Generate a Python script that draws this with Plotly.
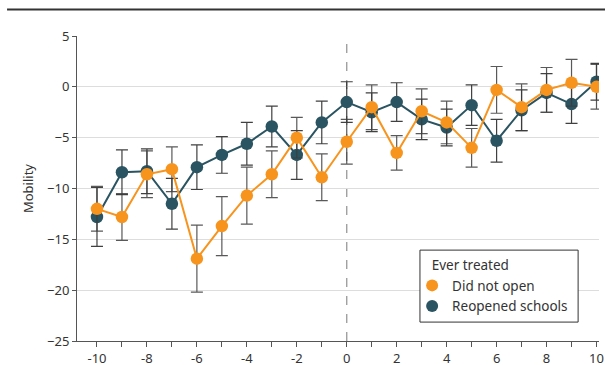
import plotly.graph_objects as go

months = list(range(-10, 11))

did_not_open = [-12.0, -12.8, -8.6, -8.1, -16.9, -13.7, -10.7, -8.6, -5.0, -8.9, -5.4,
                -2.0, -6.5, -2.4, -3.5, -6.0, -0.3, -2.0, -0.3, 0.4, 0.0]
did_not_open_err = [2.2, 2.3, 2.3, 2.2, 3.3, 2.9, 2.8, 2.3, 2.0, 2.3, 2.2,
                    2.2, 1.7, 2.2, 2.1, 1.9, 2.3, 2.3, 2.2, 2.3, 2.2]

reopened = [-12.8, -8.4, -8.3, -11.5, -7.9, -6.7, -5.6, -3.9, -6.7, -3.5, -1.5,
            -2.5, -1.5, -3.2, -4.0, -1.8, -5.3, -2.3, -0.6, -1.7, 0.5]
reopened_err = [2.9, 2.2, 2.2, 2.5, 2.2, 1.8, 2.1, 2.0, 2.4, 2.1, 2.0,
                1.9, 1.9, 2.0, 1.8, 2.0, 2.1, 2.0, 1.9, 1.9, 1.8]

ORANGE = "#F7941D"
TEAL = "#2A5461"
FONT = "Noto Sans"
TXT = "#333333"

fig = go.Figure()

fig.add_trace(go.Scatter(
    x=months, y=reopened, mode="lines+markers",
    line=dict(color=TEAL, width=2),
    marker=dict(color=TEAL, size=12.5),
    error_y=dict(type="data", array=reopened_err, color="rgba(30,30,30,0.85)", thickness=1.2, width=6),
    showlegend=False))

fig.add_trace(go.Scatter(
    x=months, y=did_not_open, mode="lines+markers",
    line=dict(color=ORANGE, width=2),
    marker=dict(color=ORANGE, size=12.5),
    error_y=dict(type="data", array=did_not_open_err, color="rgba(60,60,60,0.85)", thickness=1.2, width=6),
    showlegend=False))

fig.add_trace(go.Scatter(x=[None], y=[None], mode="markers", name="Did not open",
                         marker=dict(color=ORANGE, size=12.5), legendrank=1))
fig.add_trace(go.Scatter(x=[None], y=[None], mode="markers", name="Reopened schools",
                         marker=dict(color=TEAL, size=12.5), legendrank=2))

# zero reference line
fig.add_shape(type="line", xref="x", yref="paper", x0=0, x1=0, y0=0, y1=1,
              line=dict(color="#999999", width=1.3, dash="dash"), layer="below")

# header rule
fig.add_shape(type="line", xref="paper", yref="paper", x0=-0.134, x1=1.03, y0=1.087, y1=1.087,
              line=dict(color="#333333", width=2))

# legend frame
fig.add_shape(type="rect", xref="paper", yref="paper", x0=0.657, x1=0.960, y0=0.062, y1=0.298,
              line=dict(color="#333333", width=1), fillcolor="white", layer="above")

fig.update_layout(
    width=605, height=365,
    margin=dict(l=77, r=6, t=36, b=24, autoexpand=False),
    plot_bgcolor="white", paper_bgcolor="white",
    font=dict(family=FONT, size=13, color=TXT),
    legend=dict(
        title=dict(text="&nbsp;&nbsp;&nbsp;&nbsp;&nbsp;Ever treated", font=dict(family=FONT, size=13.5, color=TXT)),
        x=0.642, y=0.29, xanchor="left", yanchor="top",
        borderwidth=0, bgcolor="rgba(0,0,0,0)",
        font=dict(family=FONT, size=13.5, color=TXT),
        itemsizing="constant", tracegroupgap=0),
    xaxis=dict(
        range=[-10.8, 10.1],
        tickvals=months,
        ticktext=[str(m) if m % 2 == 0 else "" for m in months],
        ticks="outside", ticklen=5, tickcolor="#555555",
        showline=True, linecolor="#555555", linewidth=1,
        showgrid=False, zeroline=False, ticklabeloverflow="allow",
        tickfont=dict(family=FONT, size=13, color=TXT)),
    yaxis=dict(
        range=[-25, 5],
        tickvals=[5, 0, -5, -10, -15, -20, -25],
        ticks="outside", ticklen=4, tickcolor="#555555",
        showline=True, linecolor="#555555", linewidth=1,
        showgrid=True, gridcolor="#DDDDDD", gridwidth=1,
        zeroline=False,
        title=dict(text="Mobility", font=dict(family=FONT, size=13, color=TXT), standoff=10),
        tickfont=dict(family=FONT, size=13, color=TXT)),
)

fig.write_html(
    "out.html",
    config={"displayModeBar": False},
    post_script="document.body.style.margin='0';document.body.style.overflow='hidden';",
)
